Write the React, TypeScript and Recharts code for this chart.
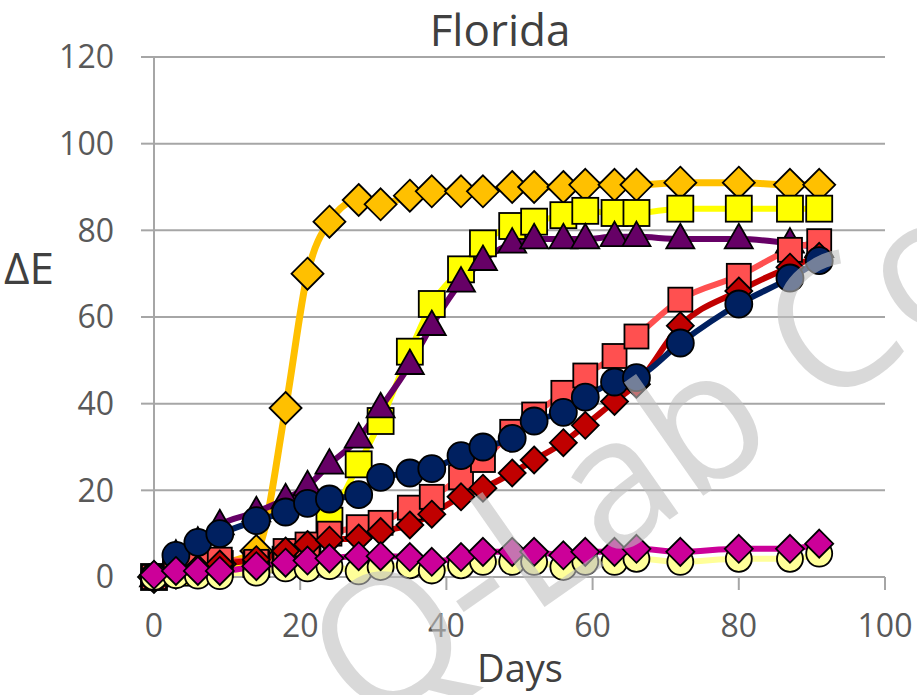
import { LineChart, Line, XAxis, YAxis, CartesianGrid } from 'recharts'

const days = [0, 3, 6, 9, 14, 18, 21, 24, 28, 31, 35, 38, 42, 45, 49, 52, 56, 59, 63, 66, 72, 80, 87, 91]

const orange = [0, 1, 2, 3, 6, 39, 70, 82, 87, 86, 88, 89, 89, 89, 90, 90, 90, 90.5, 90.5, 90.5, 91, 91, 90.5, 90.5]
const yellow = [0, 1, 2, 3, 3, 4, 5, 13, 26, 36, 52, 63, 71, 77, 81, 82, 83.5, 84.5, 84, 84, 85, 85, 85, 85]
const purple = [0, 5, 8, 12, 15, 18, 21, 26, 32, 39, 49, 58, 68, 73, 77, 78, 78, 78, 78.5, 78.5, 78, 78, 77, 76]
const salmon = [0, 2, 3, 4, 3.5, 6, 7.5, 10, 11.5, 12.5, 16, 18.5, 23, 27, 33.5, 37.5, 42.5, 46.5, 51, 55.5, 64, 69.5, 75.5, 77.5]
const crimson = [0, 1, 2, 3, 4, 6, 7.5, 8.5, 9, 10.5, 12, 14.5, 18.5, 20.5, 24, 27, 31, 35, 40.5, 44.5, 58, 66, 71.5, 74]
const navy = [0, 5, 8, 10, 13, 15, 17, 18, 19, 23, 24, 25, 28, 30, 32, 36, 38, 41.5, 45, 46, 54, 63, 69, 73]
const pale = [0, 0.4, 0.3, 0.2, 1, 2, 2, 2.5, 1.3, 2.3, 2.7, 1.5, 2.7, 3.5, 3.5, 3.5, 2.3, 3.5, 3.5, 4.2, 3.5, 4.2, 4.2, 5.4]
const magenta = [0.5, 1.4, 1.4, 1.4, 2.5, 3.3, 3.8, 4.3, 4.8, 4.8, 4.6, 3.5, 4.6, 5.8, 5.8, 5.8, 5, 5.8, 5.8, 6.5, 5.8, 6.5, 6.5, 7.7]

const xTicks = [0, 20, 40, 60, 80, 100]
const yTicks = [0, 20, 40, 60, 80, 100, 120]

const data = days.map((day, i) => ({
  day,
  orange: orange[i],
  yellow: yellow[i],
  purple: purple[i],
  salmon: salmon[i],
  crimson: crimson[i],
  navy: navy[i],
  pale: pale[i],
  magenta: magenta[i],
}))

const FONT = '"Open Sans", "Noto Sans", sans-serif'
const GRID = '#a6a6a6'

type Shape = 'diamond' | 'square' | 'triangle' | 'circle'

function marker(shape: Shape, fill: string, size: number) {
  // eslint-disable-next-line @typescript-eslint/no-explicit-any
  return (props: any) => {
    const { cx, cy, index } = props
    const k = `${shape}-${fill}-${index}`
    if (cx == null || cy == null) return <g key={k} />
    const common = { fill, stroke: '#000', strokeWidth: 1.8 }
    if (shape === 'circle') return <circle key={k} cx={cx} cy={cy} r={size} {...common} />
    if (shape === 'square')
      return <rect key={k} x={cx - size} y={cy - size} width={size * 2} height={size * 2} {...common} />
    if (shape === 'triangle') {
      const h = size * 1.75
      const pts = `${cx},${cy - h * 0.62} ${cx + size},${cy + h * 0.38} ${cx - size},${cy + h * 0.38}`
      return <polygon key={k} points={pts} {...common} />
    }
    const pts = `${cx},${cy - size} ${cx + size},${cy} ${cx},${cy + size} ${cx - size},${cy}`
    return <polygon key={k} points={pts} {...common} />
  }
}

const series: { key: string; color: string; shape: Shape; size: number; width: number }[] = [
  { key: 'orange', color: '#FFC000', shape: 'diamond', size: 16, width: 7 },
  { key: 'yellow', color: '#FFFF00', shape: 'square', size: 13, width: 6 },
  { key: 'purple', color: '#660066', shape: 'triangle', size: 14, width: 6 },
  { key: 'salmon', color: '#FF5050', shape: 'square', size: 12, width: 6 },
  { key: 'crimson', color: '#C00000', shape: 'diamond', size: 13.5, width: 6 },
  { key: 'navy', color: '#002060', shape: 'circle', size: 13.5, width: 6 },
  { key: 'pale', color: '#FFFF99', shape: 'circle', size: 13, width: 6 },
  { key: 'magenta', color: '#CC0099', shape: 'diamond', size: 14, width: 6 },
]

export default function App() {
  return (
    <div style={{ position: 'absolute', left: 0, top: 0, width: 917, height: 695, background: '#fff', overflow: 'hidden' }}>
      <LineChart width={917} height={695} data={data} margin={{ top: 57, right: 32, bottom: 0, left: 0 }}>
        <CartesianGrid vertical={false} stroke={GRID} strokeWidth={2} />
        <XAxis
          dataKey="day"
          type="number"
          domain={[0, 100]}
          ticks={xTicks}
          height={118}
          tickSize={13}
          tickMargin={24}
          axisLine={{ stroke: GRID, strokeWidth: 2 }}
          tickLine={{ stroke: GRID, strokeWidth: 2 }}
          tick={{ fill: '#595959', fontSize: 32, fontFamily: FONT }}
          label={{
            content: () => (
              <text x={520} y={682} textAnchor="middle" fill="#404040" fontSize={38} fontFamily={FONT}>
                Days
              </text>
            ),
          }}
        />
        <YAxis
          type="number"
          domain={[0, 120]}
          ticks={yTicks}
          width={154}
          tickSize={13}
          tickMargin={27}
          axisLine={{ stroke: GRID, strokeWidth: 2 }}
          tickLine={{ stroke: GRID, strokeWidth: 2 }}
          tick={{ fill: '#595959', fontSize: 32, fontFamily: FONT }}
          label={{
            content: () => (
              <text x={4} y={284} fill="#404040" fontSize={44} fontFamily={FONT}>
                ΔE
              </text>
            ),
          }}
        />
        {series.map((s) => (
          <Line
            key={s.key}
            dataKey={s.key}
            type="monotone"
            stroke={s.color}
            strokeWidth={s.width}
            dot={marker(s.shape, s.color, s.size)}
            activeDot={false}
            isAnimationActive={false}
          />
        ))}
      </LineChart>
      {/* title and watermark sit above the plot */}
      <svg
        width={917}
        height={695}
        style={{ position: 'absolute', left: 0, top: 0, pointerEvents: 'none' }}
      >
        <text x={500} y={46} textAnchor="middle" fill="#404040" fontSize={44} fontFamily={FONT}>
          Florida
        </text>
        <text
          x={0}
          y={0}
          transform="translate(366,732) rotate(-35)"
          fill="#bfbfbf"
          fillOpacity={0.6}
          fontSize={182}
          fontFamily={FONT}
        >
          Q-Lab Co
        </text>
      </svg>
    </div>
  )
}
